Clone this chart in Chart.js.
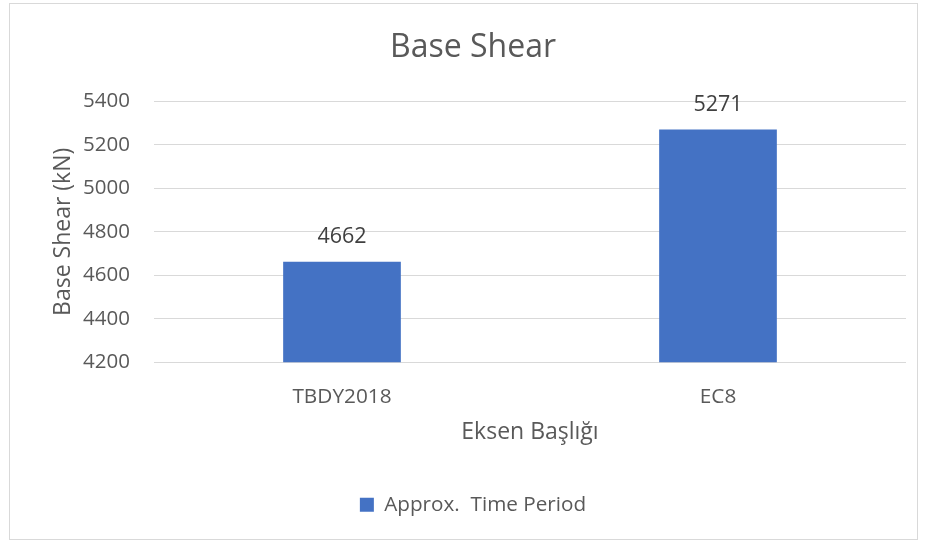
<!DOCTYPE html>
<html>
<head>
<meta charset="utf-8">
<script src="https://cdn.jsdelivr.net/npm/chart.js@4.4.1/dist/chart.umd.min.js"></script>
<style>
  html, body { margin: 0; padding: 0; background: #fff; }
  #wrap { width: 925px; height: 543px; position: relative; }
</style>
</head>
<body>
<div id="wrap"><canvas id="chart"></canvas></div>
<script>
// data
const categories = ['TBDY2018', 'EC8'];
const baseShear = [4662, 5271];
const seriesLabel = 'Approx.  Time Period';
const yMin = 4200, yMax = 5400, yStep = 200;

const textColor = '#595959';
const gridColor = '#d9d9d9';
const barColor = '#4472c4';
const fontFamily = '"Open Sans", "DejaVu Sans", sans-serif';

// value labels above each bar
const valueLabels = {
  id: 'valueLabels',
  afterDatasetsDraw(chart) {
    const ctx = chart.ctx;
    const meta = chart.getDatasetMeta(0);
    ctx.save();
    ctx.font = '21.5px ' + fontFamily;
    ctx.fillStyle = '#404040';
    ctx.textAlign = 'center';
    ctx.textBaseline = 'middle';
    meta.data.forEach((bar, i) => {
      ctx.fillText(String(chart.data.datasets[0].data[i]), bar.x, bar.y - 25);
    });
    ctx.restore();
  }
};

// thin frame round the whole chart, like the Excel chart area
const chartFrame = {
  id: 'chartFrame',
  beforeDraw(chart) {
    const ctx = chart.ctx;
    ctx.save();
    ctx.strokeStyle = gridColor;
    ctx.lineWidth = 1;
    ctx.strokeRect(9.5, 3.5, chart.width - 17, chart.height - 7);
    ctx.restore();
  }
};

new Chart(document.getElementById('chart'), {
  type: 'bar',
  data: {
    labels: categories,
    datasets: [{
      label: seriesLabel,
      data: baseShear,
      backgroundColor: barColor,
      borderWidth: 0,
      categoryPercentage: 1,
      barPercentage: 0.313
    }]
  },
  options: {
    responsive: true,
    maintainAspectRatio: false,
    animation: false,
    layout: { padding: { left: 40, right: 19, top: 0, bottom: 18 } },
    plugins: {
      title: {
        display: true,
        text: 'Base Shear',
        color: textColor,
        font: { family: fontFamily, size: 32, weight: 'normal' },
        padding: { top: 29, bottom: 34 }
      },
      legend: {
        position: 'bottom',
        labels: {
          color: textColor,
          font: { family: fontFamily, size: 20.7 },
          boxWidth: 14,
          boxHeight: 14,
          padding: 10
        }
      },
      tooltip: { enabled: false }
    },
    scales: {
      x: {
        grid: { display: false, drawTicks: false },
        border: { display: false },
        ticks: { color: textColor, font: { family: fontFamily, size: 20.8 }, padding: 22 },
        title: {
          display: true,
          text: 'Eksen Başlığı',
          color: textColor,
          font: { family: fontFamily, size: 23 },
          padding: { top: 0, bottom: 38 }
        },
        afterFit(scale) { scale.height = 122; }
      },
      y: {
        min: yMin,
        max: yMax,
        grid: { color: gridColor, drawTicks: false },
        border: { display: false },
        ticks: {
          stepSize: yStep,
          color: textColor,
          font: { family: fontFamily, size: 20.5 },
          padding: 24,
          callback: v => String(v)
        },
        title: {
          display: true,
          text: 'Base Shear (kN)',
          color: textColor,
          font: { family: fontFamily, size: 23 },
          padding: { top: 10, bottom: 0 }
        },
        afterFit(scale) { scale.width = 114; }
      }
    }
  },
  plugins: [valueLabels, chartFrame]
});
</script>
</body>
</html>
